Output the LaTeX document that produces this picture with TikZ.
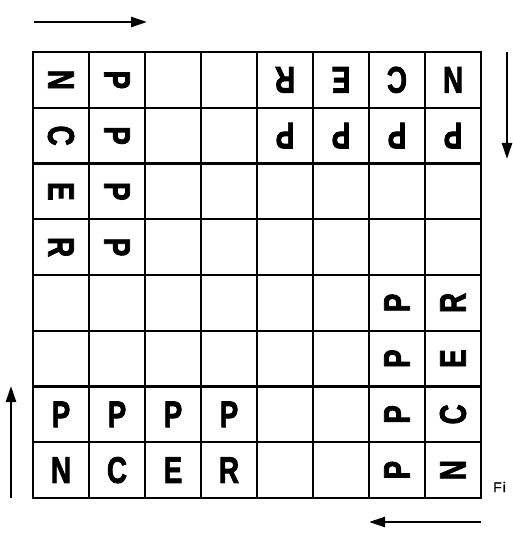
\documentclass[tikz,border=0pt]{standalone}
\usepackage{fontspec}
\setmainfont{Liberation Sans}
\newfontfamily\ltrfont[FakeBold=2.5]{Liberation Sans Bold}
\newfontfamily\figfont[FakeBold=1]{Liberation Sans}
\usetikzlibrary{arrows.meta}
\begin{document}
\begin{tikzpicture}[x=1pt,y=-1pt,
  gridline/.style={line width=2.2pt},
  ltr/.style={font=\ltrfont\fontsize{37}{37}\selectfont, inner sep=0pt},
  up/.style={ltr},
  lf/.style={ltr,rotate=-90},
  dn/.style={ltr,rotate=180},
  rt/.style={ltr,rotate=90},
  arr/.style={line width=2.4pt,-{Triangle[length=16pt,width=10pt]}},
  figlabel/.style={font=\figfont\fontsize{14}{14}\selectfont, inner sep=0pt, anchor=west}]
\useasboundingbox (0,0) rectangle (512,534);
% grid
\foreach \i in {1,...,7} {
  \draw[gridline] ({33+56*\i},52) -- ({33+56*\i},498);
  \draw[gridline] (33,{52+55.75*\i}) -- (481,{52+55.75*\i});
}
\draw[line width=2.6pt] (33,52) rectangle (481,498);
% letters
\foreach \r/\c/\l/\s in {
  1/1/N/lf, 1/2/P/lf, 1/5/R/dn, 1/6/E/dn, 1/7/C/dn, 1/8/N/dn,
  2/1/C/lf, 2/2/P/lf, 2/5/P/dn, 2/6/P/dn, 2/7/P/dn, 2/8/P/dn,
  3/1/E/lf, 3/2/P/lf,
  4/1/R/lf, 4/2/P/lf,
  5/7/P/rt, 5/8/R/rt,
  6/7/P/rt, 6/8/E/rt,
  7/1/P/up, 7/2/P/up, 7/3/P/up, 7/4/P/up, 7/7/P/rt, 7/8/C/rt,
  8/1/N/up, 8/2/C/up, 8/3/E/up, 8/4/R/up, 8/7/P/rt, 8/8/N/rt}
  \node[\s] (c\r\c) at ({5+56*\c},{52+55.75*(\r-0.5)}) {\scalebox{0.75}[1]{\l}};
% arrows
\coordinate (ta) at (34,22);  \coordinate (tb) at (147,22);
\coordinate (ra) at (507,52); \coordinate (rb) at (507,159);
\coordinate (ba) at (481,522); \coordinate (bb) at (369,522);
\coordinate (la) at (11,498); \coordinate (lb) at (11,386);
\draw[arr] (ta) -- (tb);
\draw[arr] (ra) -- (rb);
\draw[arr] (ba) -- (bb);
\draw[arr] (la) -- (lb);
% caption
\node[figlabel] (fig) at (493,487) {F\kern1pt i};
\end{tikzpicture}
\end{document}
